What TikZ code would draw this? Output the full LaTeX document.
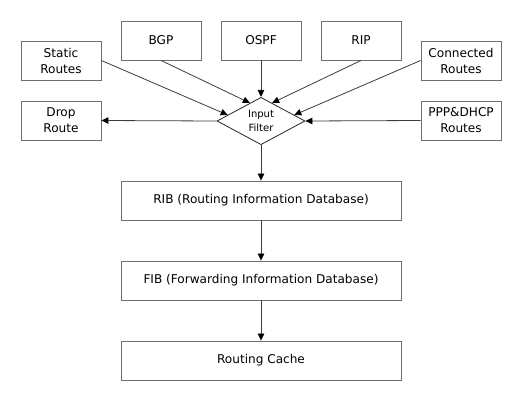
\documentclass[tikz,border=0pt]{standalone}
\usepackage{fontspec}
\setmainfont{DejaVu Sans}
\usetikzlibrary{shapes.geometric,arrows.meta,calc}
\definecolor{boxgray}{HTML}{6E6E6E}
\definecolor{linegray}{HTML}{3C3C3C}
\begin{document}
\begin{tikzpicture}[x=1pt,y=-1pt,
  box/.style={draw=boxgray,line width=0.9pt,minimum width=80pt,minimum height=39pt,inner sep=0pt,align=center,font=\fontsize{12.1}{16}\selectfont},
  filt/.style={draw=black!85,line width=0.8pt,diamond,minimum width=88pt,minimum height=44pt,inner sep=0pt,align=center,font=\fontsize{10}{14}\selectfont},
  conn/.style={draw=linegray,line width=0.8pt,-{Triangle[length=7pt,width=6.5pt,color=black]}}]
\useasboundingbox (0,0) rectangle (522,402);
\node[box] (static) at (61,60.5) {Static\\Routes};
\node[box] (bgp) at (161,40.5) {BGP};
\node[box] (ospf) at (261,40.5) {OSPF};
\node[box] (rip) at (361,40.5) {RIP};
\node[box] (conn) at (461,60.5) {Connected\\Routes};
\node[box] (drop) at (61,120.5) {Drop\\Route};
\node[box] (ppp) at (461,120.5) {PPP\&DHCP\\Routes};
\node[filt] (f) at (261,121) {Input\\Filter};
\node[box,minimum width=280pt] (rib) at (261,200.5) {RIB (Routing Information Database)};
\node[box,minimum width=280pt] (fib) at (261,280.5) {FIB (Forwarding Information Database)};
\node[box,minimum width=280pt] (cache) at (261,360.5) {Routing Cache};
\coordinate (sIn) at ($(f.west)!0.25!(f.north)$);
\coordinate (bIn) at ($(f.west)!0.75!(f.north)$);
\coordinate (rIn) at ($(f.east)!0.75!(f.north)$);
\coordinate (cIn) at ($(f.east)!0.25!(f.north)$);
\draw[conn] (static.east) -- (sIn);
\draw[conn] (bgp.south) -- (bIn);
\draw[conn] (ospf.south) -- (f.north);
\draw[conn] (rip.south) -- (rIn);
\draw[conn] (conn.west) -- (cIn);
\draw[conn] (ppp.west) -- (f.east);
\draw[conn] (f.west) -- (drop.east);
\draw[conn] (f.south) -- (rib.north);
\draw[conn] (rib.south) -- (fib.north);
\draw[conn] (fib.south) -- (cache.north);
\end{tikzpicture}
\end{document}
